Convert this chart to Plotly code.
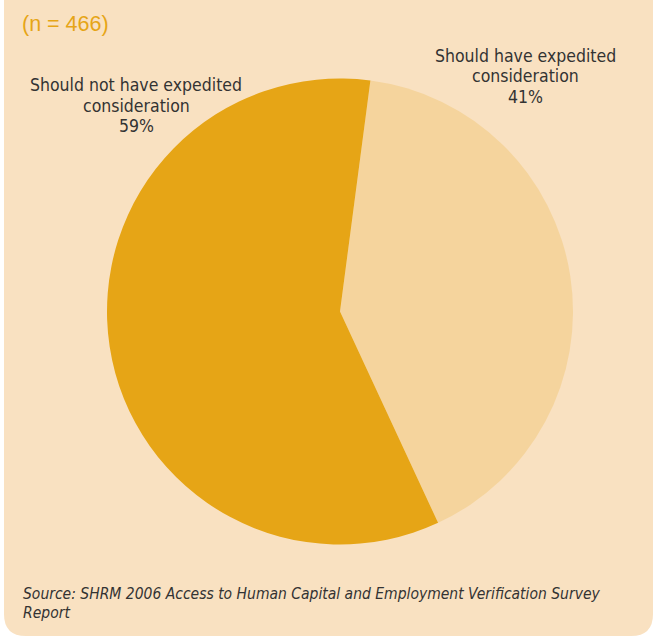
import plotly.graph_objects as go

# Survey responses (n = 466)
categories = ["Should have expedited consideration", "Should not have expedited consideration"]
label_lines = [["Should have expedited", "consideration"], ["Should not have expedited", "consideration"]]
shares = [41, 59]
slice_colors = ["#F5D49D", "#E6A516"]
sample_note = "(n = 466)"
source_lines = ["Source: SHRM 2006 Access to Human Capital and Employment Verification Survey", "Report"]

W, H = 657, 639
PANEL = "#F9E1C1"
TEXT = "#333333"
NARROW = "Liberation Sans Narrow, DejaVu Sans Condensed, Arial Narrow, sans-serif"


def px(x):
    return x / W


def py(y):
    return 1 - y / H


# pie geometry in pixels
cx, cy, r = 340, 311.5, 233

fig = go.Figure(
    go.Pie(
        labels=categories,
        values=shares,
        sort=False,
        direction="clockwise",
        rotation=7.5,
        marker=dict(colors=slice_colors, line=dict(width=0)),
        textinfo="none",
        hoverinfo="label+percent",
        showlegend=False,
        domain=dict(x=[px(cx - r), px(cx + r)], y=[py(cy + r), py(cy - r)]),
    )
)

# cream panel with rounded lower corners
left, right, top, bottom, rad = 4, 653, -2, 636, 22
path = (
    f"M {px(left)},{py(top)} L {px(right)},{py(top)} "
    f"L {px(right)},{py(bottom - rad)} "
    f"Q {px(right)},{py(bottom)} {px(right - rad)},{py(bottom)} "
    f"L {px(left + rad)},{py(bottom)} "
    f"Q {px(left)},{py(bottom)} {px(left)},{py(bottom - rad)} Z"
)
shapes = [dict(type="path", path=path, xref="paper", yref="paper",
               fillcolor=PANEL, line=dict(width=0), layer="below")]

annotations = []


def add_text(text, x, y, size, color=TEXT, family=NARROW, xanchor="center"):
    annotations.append(dict(text=text, x=px(x), y=py(y), xref="paper", yref="paper",
                            xanchor=xanchor, yanchor="middle", showarrow=False,
                            font=dict(size=size, color=color, family=family)))


# slice labels: name lines followed by the share
label_pos = [(525, 56), (136, 85)]
for lines, share, (lx, ly) in zip(label_lines, shares, label_pos):
    for i, line in enumerate(lines + [f"{share}%"]):
        add_text(line, lx, ly + i * 20.5, 17.5)

add_text(sample_note, 20, 24, 21.5, color="#E6A516",
         family="Liberation Sans, Arial, sans-serif", xanchor="left")

for i, line in enumerate(source_lines):
    add_text(f"<i>{line}</i>", 21, 594 + i * 18.5, 15.5, xanchor="left")

fig.update_layout(
    width=W, height=H,
    margin=dict(l=0, r=0, t=0, b=0),
    paper_bgcolor="white",
    plot_bgcolor="white",
    shapes=shapes,
    annotations=annotations,
)

fig.write_html("out.html")
